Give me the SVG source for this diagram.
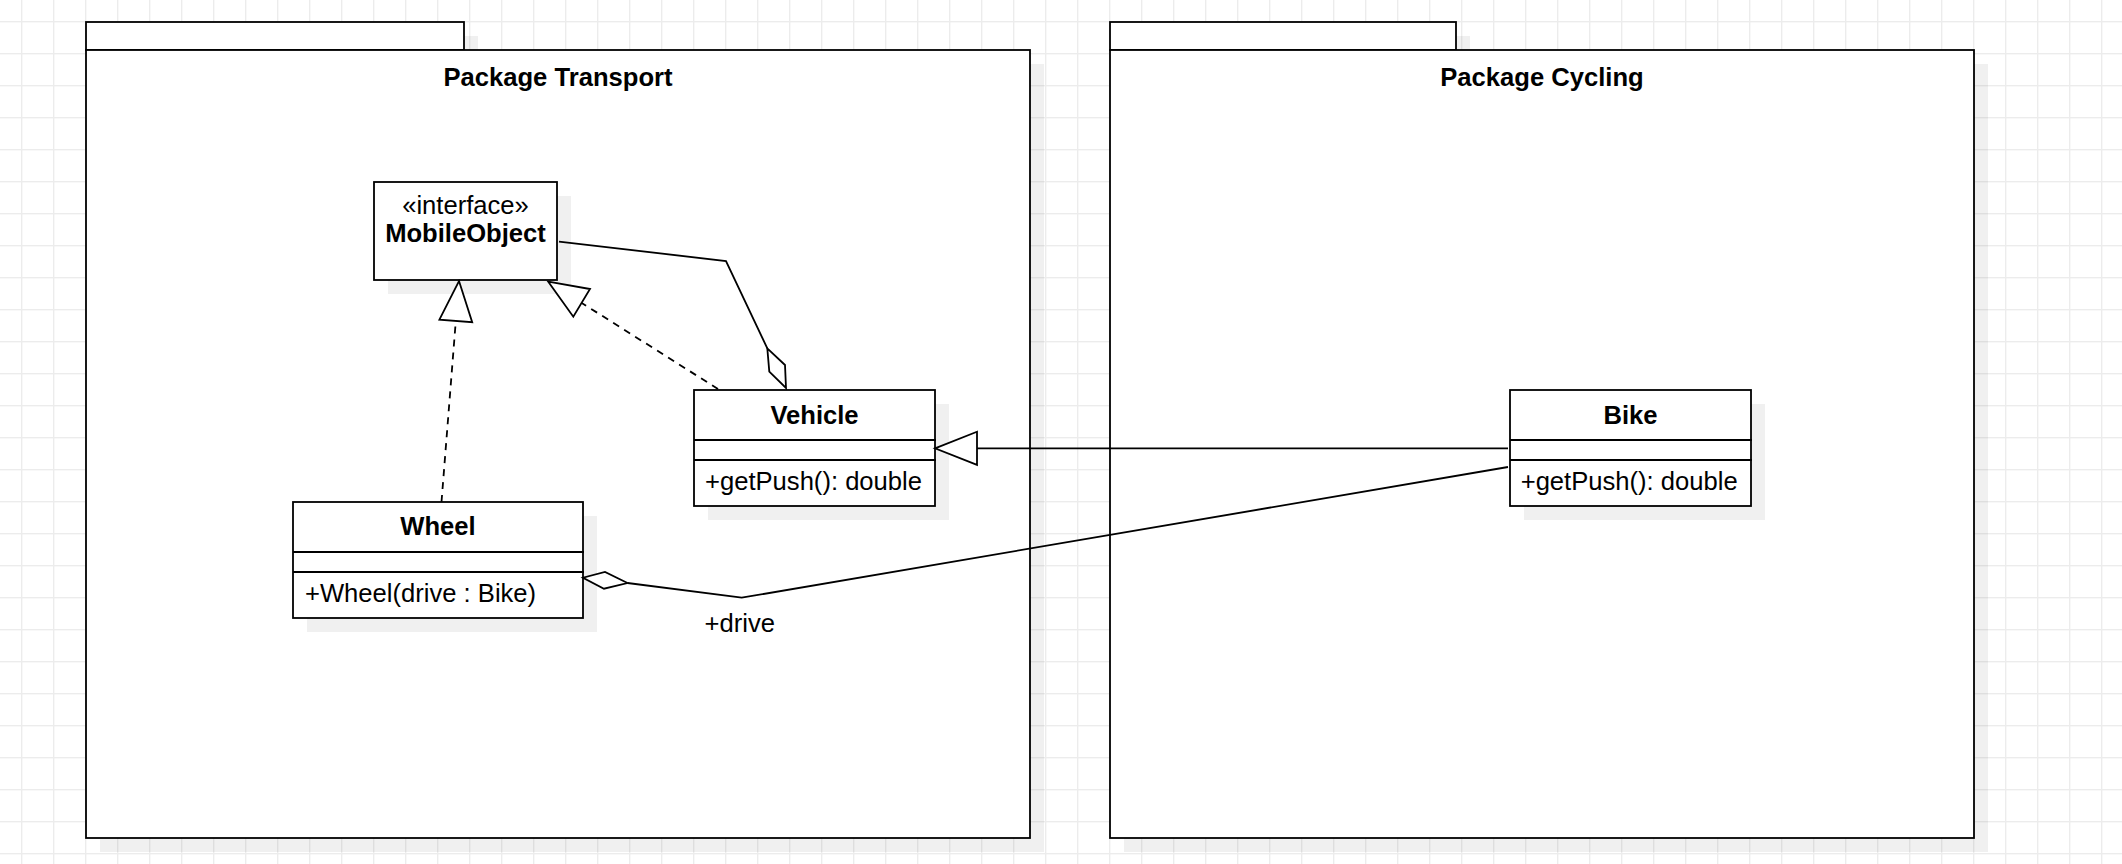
<svg xmlns="http://www.w3.org/2000/svg" width="2122" height="864" viewBox="0 0 2122 864">
<defs>
<pattern id="grid" x="21" y="21" width="32" height="32" patternUnits="userSpaceOnUse">
<rect x="0" y="0" width="32" height="1.4" fill="#ececec"/>
<rect x="0" y="0" width="1.4" height="32" fill="#ececec"/>
</pattern>
<style>
.box{fill:#fff;stroke:#000;stroke-width:1.8}
.shadow{fill:#000;fill-opacity:0.06}
.div{stroke:#000;stroke-width:1.8;fill:none}
.t{font-family:"Liberation Sans",Arial,sans-serif;font-size:25.6px;fill:#000}
.b{font-weight:bold}
.mid{text-anchor:middle}
.line{fill:none;stroke:#000;stroke-width:1.8}
.dash{stroke-dasharray:7 6}
.head{fill:#fff;stroke:#000;stroke-width:1.8;stroke-linejoin:miter}
</style>
</defs>
<rect width="2122" height="864" fill="#fff"/>
<rect width="2122" height="864" fill="url(#grid)"/>

<g id="pkg-transport">
<path class="shadow" d="M100,36 H478 V64 H1044 V852 H100 Z"/>
<rect class="box" x="86" y="22" width="378" height="28"/>
<rect class="box" x="86" y="50" width="944" height="788"/>
<text class="t b mid" x="558" y="86">Package Transport</text>
</g>

<g id="pkg-cycling">
<path class="shadow" d="M1124,36 H1470 V64 H1988 V852 H1124 Z"/>
<rect class="box" x="1110" y="22" width="346" height="28"/>
<rect class="box" x="1110" y="50" width="864" height="788"/>
<text class="t b mid" x="1542" y="86">Package Cycling</text>
</g>

<g id="mobileobject">
<rect class="shadow" x="388" y="196" width="183" height="98"/>
<rect class="box" x="374" y="182" width="183" height="98"/>
<text class="t mid" x="465.5" y="214">«interface»</text>
<text class="t b mid" x="465.5" y="241.5">MobileObject</text>
</g>

<g id="vehicle">
<rect class="shadow" x="708" y="404" width="241" height="116"/>
<rect class="box" x="694" y="390" width="241" height="116"/>
<line class="div" x1="694" y1="440" x2="936" y2="440"/>
<line class="div" x1="694" y1="460" x2="936" y2="460"/>
<text class="t b mid" x="814.5" y="424.3">Vehicle</text>
<text class="t" x="705" y="490">+getPush(): double</text>
</g>

<g id="wheel">
<rect class="shadow" x="307" y="516" width="290" height="116"/>
<rect class="box" x="293" y="502" width="290" height="116"/>
<line class="div" x1="293" y1="552" x2="584" y2="552"/>
<line class="div" x1="293" y1="572" x2="584" y2="572"/>
<text class="t b mid" x="438" y="535">Wheel</text>
<text class="t" x="305" y="602">+Wheel(drive : Bike)</text>
</g>

<g id="bike">
<rect class="shadow" x="1524" y="404" width="241" height="116"/>
<rect class="box" x="1510" y="390" width="241" height="116"/>
<line class="div" x1="1510" y1="440" x2="1752" y2="440"/>
<line class="div" x1="1510" y1="460" x2="1752" y2="460"/>
<text class="t b mid" x="1630.5" y="424.3">Bike</text>
<text class="t" x="1520.7" y="490">+getPush(): double</text>
</g>

<g id="connectors">
<!-- Wheel realizes MobileObject -->
<line class="line dash" x1="441.5" y1="502" x2="455.8" y2="321"/>
<polygon class="head" points="459,281 472.2,322.2 439.4,319.6"/>
<!-- Vehicle realizes MobileObject -->
<line class="line dash" x1="718" y1="389" x2="581.7" y2="302.9"/>
<polygon class="head" points="548.3,281.7 590,289 573.3,316.7"/>
<!-- MobileObject aggregated by Vehicle -->
<polyline class="line" points="559,241.7 726,261 767.3,348.3"/>
<polygon class="head" points="767.3,348.3 785,365 786,388 769.3,371.7"/>
<!-- Bike generalizes Vehicle -->
<line class="line" x1="1508" y1="448.3" x2="977" y2="448.3"/>
<polygon class="head" points="935,448.3 977,431.7 977,464.9"/>
<!-- Bike aggregated by Wheel -->
<polyline class="line" points="1508,467 741.7,597.7 627.5,583"/>
<polygon class="head" points="627.5,583 605,572 583,577.7 604,588.7"/>
<text class="t" x="704.5" y="632">+drive</text>
</g>
</svg>
